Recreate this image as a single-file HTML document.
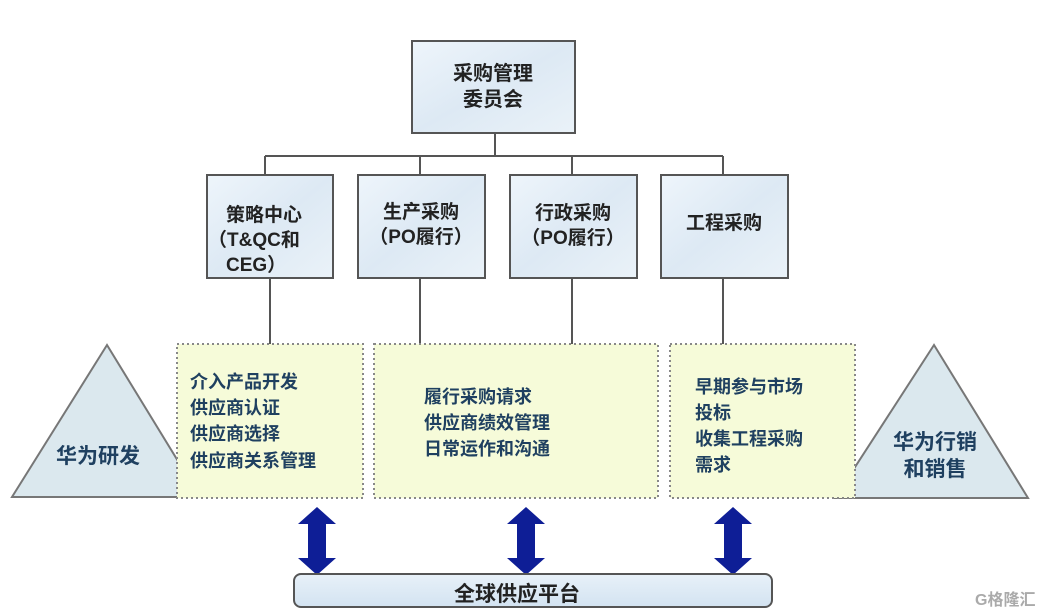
<!DOCTYPE html>
<html><head><meta charset="utf-8"><style>
html,body{margin:0;padding:0;background:#fff;}
svg{display:block;}
text{font-family:"Liberation Sans","Noto Sans CJK SC","WenQuanYi Zen Hei",sans-serif;font-weight:bold;}
</style></head><body>
<svg width="1050" height="616" viewBox="0 0 1050 616" xmlns="http://www.w3.org/2000/svg">
<defs>
<linearGradient id="bx" x1="0" y1="0" x2="1" y2="1">
<stop offset="0" stop-color="#eef5fb"/><stop offset="0.5" stop-color="#dde9f4"/><stop offset="1" stop-color="#eaf2f8"/>
</linearGradient>
<linearGradient id="bar" x1="0" y1="0" x2="0" y2="1">
<stop offset="0" stop-color="#e8f1f9"/><stop offset="1" stop-color="#d3e3f1"/>
</linearGradient>
<g id="arr"><polygon points="0,-34 19,-17 9,-17 9,17 19,17 0,34 -19,17 -9,17 -9,-17 -19,-17" fill="#0e1e96"/></g>
</defs>
<rect x="412" y="41" width="163" height="92" fill="url(#bx)" stroke="#555" stroke-width="2"/>
<text x="493" y="80" font-size="20" text-anchor="middle" fill="#222">采购管理</text>
<text x="493" y="106" font-size="20" text-anchor="middle" fill="#222">委员会</text>
<g stroke="#555" stroke-width="2" fill="none">
<line x1="495" y1="133" x2="495" y2="156"/>
<line x1="265" y1="156" x2="723" y2="156"/>
<line x1="265" y1="156" x2="265" y2="175"/>
<line x1="420" y1="156" x2="420" y2="175"/>
<line x1="572" y1="156" x2="572" y2="175"/>
<line x1="723" y1="156" x2="723" y2="175"/>
<line x1="270" y1="278" x2="270" y2="344"/>
<line x1="420" y1="278" x2="420" y2="344"/>
<line x1="572" y1="278" x2="572" y2="344"/>
<line x1="723" y1="278" x2="723" y2="344"/>
</g>
<g fill="url(#bx)" stroke="#555" stroke-width="2">
<rect x="207" y="175" width="126" height="103"/>
<rect x="358" y="175" width="127" height="103"/>
<rect x="510" y="175" width="127" height="103"/>
<rect x="661" y="175" width="127" height="103"/>
</g>
<g font-size="19" fill="#222">
<text x="226" y="221">策略中心</text>
<text x="208" y="246">（T&amp;QC和</text>
<text x="226" y="271">CEG）</text>
<text x="421" y="218" text-anchor="middle">生产采购</text>
<text x="421" y="243" text-anchor="middle">（PO履行）</text>
<text x="573" y="219" text-anchor="middle">行政采购</text>
<text x="573" y="244" text-anchor="middle">（PO履行）</text>
<text x="724" y="229" text-anchor="middle">工程采购</text>
</g>
<polygon points="107,345 12,497 200,497" fill="#dbe8ee" stroke="#777" stroke-width="2"/>
<polygon points="934,345 835,498 1028,498" fill="#dbe8ee" stroke="#777" stroke-width="2"/>
<g fill="#f6fbd9" stroke="#888" stroke-width="2" stroke-dasharray="2,3">
<rect x="177" y="344" width="186" height="154"/>
<rect x="374" y="344" width="284" height="154"/>
<rect x="670" y="344" width="185" height="154"/>
</g>
<g font-size="18" fill="#1f4060">
<text x="190" y="388">介入产品开发</text>
<text x="190" y="414">供应商认证</text>
<text x="190" y="440">供应商选择</text>
<text x="190" y="467">供应商关系管理</text>
<text x="424" y="403">履行采购请求</text>
<text x="424" y="429">供应商绩效管理</text>
<text x="424" y="455">日常运作和沟通</text>
<text x="695" y="393">早期参与市场</text>
<text x="695" y="419">投标</text>
<text x="695" y="445">收集工程采购</text>
<text x="695" y="471">需求</text>
</g>
<g font-size="21" fill="#1f4060">
<text x="56" y="463">华为研发</text>
<text x="935" y="449" text-anchor="middle">华为行销</text>
<text x="935" y="476" text-anchor="middle">和销售</text>
</g>
<use href="#arr" x="317" y="541"/>
<use href="#arr" x="526" y="541"/>
<use href="#arr" x="733" y="541"/>
<rect x="294" y="574" width="478" height="33" rx="7" fill="url(#bar)" stroke="#555" stroke-width="2"/>
<text x="517" y="601" font-size="21" text-anchor="middle" fill="#222">全球供应平台</text>
<text x="975" y="605" font-size="16" fill="#aaa" font-weight="normal">G格隆汇</text>
</svg>
</body></html>
